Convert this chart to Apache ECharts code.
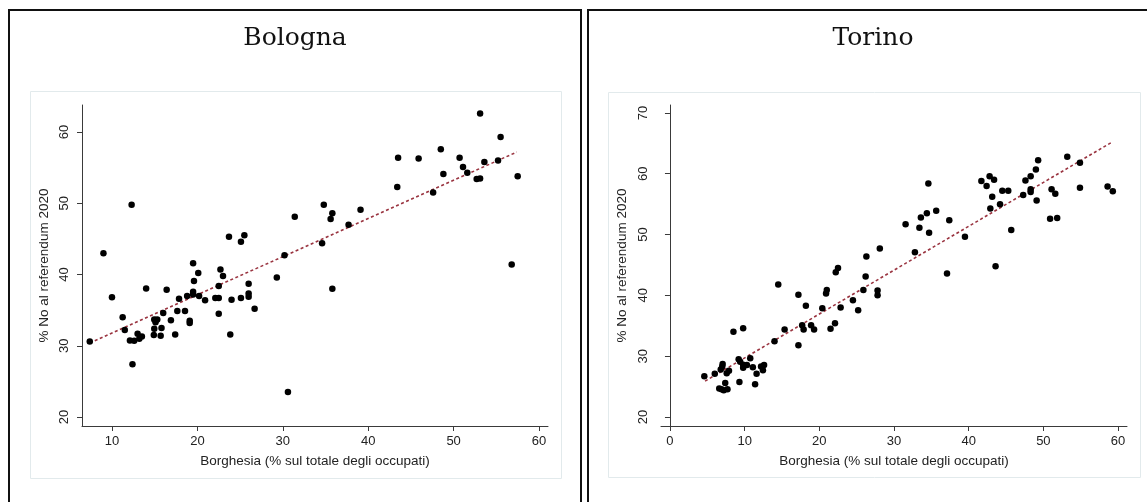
<!DOCTYPE html>
<html>
<head>
<meta charset="utf-8">
<title>Borghesia e voto No</title>
<script src="https://cdn.jsdelivr.net/npm/echarts@6/dist/echarts.min.js"></script>
<style>
    html, body { margin: 0; padding: 0; background: #fff; }
    #chart { width: 1147px; height: 502px; }
</style>
</head>
<body>
<div id="chart"></div>
<script>
// Bologna: % borghesia (x) vs % No al referendum 2020 (y)
const bolognaX = [7.4, 9.0, 10.0, 11.25, 11.5, 12.1, 12.3, 12.4, 12.6, 13.0, 13.2, 13.5, 14.0, 14.95, 15.1, 15.3, 14.95, 14.9, 15.7, 15.8,
    16.0, 16.4, 16.9, 17.4, 17.65, 17.85, 18.55, 18.8, 19.1, 19.1, 19.5, 19.5, 19.6, 20.1, 19.5, 20.2, 20.9, 22.1, 22.5, 22.5,
    22.5, 22.7, 23.0, 23.7, 23.85, 24.0, 25.1, 25.1, 25.5, 26.0, 26.0, 26.0, 26.7, 29.3, 30.2, 30.6, 31.4, 34.6, 34.8, 35.6,
    35.8, 35.8, 37.7, 39.1, 43.4, 43.5, 45.9, 47.6, 48.5, 48.8, 50.7, 51.1, 51.6, 52.7, 53.1, 53.1, 53.6, 55.2, 55.5, 56.8, 57.5];
const bolognaY = [30.6, 43.0, 36.8, 34.0, 32.2, 30.75, 49.8, 27.4, 30.7, 31.7, 31.0, 31.3, 38.05, 33.7, 33.3, 33.7, 32.4, 31.5, 31.4, 32.5,
    34.6, 37.85, 33.6, 31.6, 34.9, 36.6, 34.9, 37.0, 33.5, 33.2, 37.6, 37.2, 39.1, 40.2, 41.6, 37.0, 36.4, 36.7, 36.7, 38.4,
    34.5, 40.7, 39.8, 45.3, 31.6, 36.45, 36.7, 44.6, 45.5, 38.7, 37.35, 36.9, 35.2, 39.6, 42.7, 23.5, 48.1, 44.4, 49.8, 47.8,
    48.6, 38.0, 47.0, 49.1, 52.3, 56.4, 56.3, 51.5, 57.6, 54.1, 56.4, 55.1, 54.3, 53.4, 53.5, 62.6, 55.8, 56.0, 59.3, 41.4, 53.8];
const bolognaFit = [[7.4, 30.4], [57.4, 57.2]];

// Torino
const torinoX = [4.6, 6.0, 6.8, 7.05, 7.0, 6.6, 6.9, 7.2, 7.7, 7.4, 7.6, 7.9, 8.5, 9.2, 9.3, 9.4, 9.8, 9.8, 9.8, 10.3,
    10.75, 11.1, 11.4, 11.6, 12.2, 12.45, 12.6, 14.0, 14.5, 15.35, 17.2, 17.2, 17.7, 17.9, 18.2, 18.9, 19.3, 20.4, 20.9, 21.0,
    21.5, 22.1, 22.2, 22.5, 22.85, 24.5, 25.2, 25.9, 26.2, 26.3, 27.8, 27.8, 28.1, 31.55, 32.8, 33.4, 33.6, 34.4, 34.6, 34.7,
    35.65, 37.1, 37.4, 39.5, 41.7, 42.4, 42.8, 42.9, 43.15, 43.4, 43.6, 44.2, 44.5, 45.3, 45.7, 47.3, 47.6, 48.3, 48.3, 48.3,
    49.0, 49.1, 49.3, 50.9, 51.1, 51.6, 51.85, 53.2, 54.9, 54.9, 58.6, 59.3];
const torinoY = [26.7, 27.1, 27.8, 28.7, 28.3, 24.7, 24.55, 24.4, 24.55, 25.6, 27.2, 27.6, 34.0, 29.5, 25.75, 29.1, 34.6, 28.1, 28.6, 28.55,
    29.65, 28.2, 25.4, 27.1, 28.3, 27.7, 28.55, 32.45, 41.8, 34.4, 40.1, 31.8, 35.1, 34.4, 38.3, 35.1, 34.4, 37.9, 40.3, 40.9,
    34.5, 35.4, 43.8, 44.5, 38.0, 39.2, 37.55, 40.9, 43.1, 46.4, 40.8, 40.0, 47.7, 51.7, 47.1, 51.1, 52.8, 53.5, 58.4, 50.3,
    53.9, 43.6, 52.35, 49.65, 58.8, 58.0, 59.6, 54.3, 56.2, 59.0, 44.8, 55.0, 57.2, 57.2, 50.75, 56.5, 58.9, 59.6, 57.45, 57.0,
    60.7, 55.6, 62.2, 52.6, 57.45, 56.7, 52.7, 62.8, 61.8, 57.7, 57.9, 57.1];
const torinoFit = [[4.7, 25.9], [59.2, 65.2]];

const bolognaTicksX = [10, 20, 30, 40, 50, 60];
const bolognaTicksY = [20, 30, 40, 50, 60];
const torinoTicksX = [0, 10, 20, 30, 40, 50, 60];
const torinoTicksY = [20, 30, 40, 50, 60, 70];

const xName = 'Borghesia (% sul totale degli occupati)';
const yName = '% No al referendum 2020';

function pairs(xs, ys) {
    return xs.map((x, i) => [x, ys[i]]);
}

const axisFont = 'Liberation Sans, Arial, sans-serif';
const axisColor = '#3a3a3a';

function xAxisFor(gridIndex, min, max, ticks) {
    return {
        type: 'value',
        gridIndex: gridIndex,
        min: min,
        max: max,
        name: xName,
        nameLocation: 'middle',
        nameGap: 28,
        nameTextStyle: { fontFamily: axisFont, fontSize: 13.5, color: '#222' },
        axisLine: { show: true, lineStyle: { color: axisColor, width: 1 } },
        axisTick: { show: true, length: 5, customValues: ticks, lineStyle: { color: axisColor } },
        axisLabel: { customValues: ticks, margin: 9, fontFamily: axisFont, fontSize: 13, color: '#222' },
        splitLine: { show: false }
    };
}

function yAxisFor(gridIndex, min, max, ticks, nameGap) {
    return {
        type: 'value',
        gridIndex: gridIndex,
        min: min,
        max: max,
        name: yName,
        nameLocation: 'middle',
        nameGap: nameGap,
        nameTextStyle: { fontFamily: axisFont, fontSize: 13.5, color: '#222' },
        axisLine: { show: true, lineStyle: { color: axisColor, width: 1 } },
        axisTick: { show: true, length: 5, customValues: ticks, lineStyle: { color: axisColor } },
        axisLabel: { customValues: ticks, rotate: 90, margin: 11, fontFamily: axisFont, fontSize: 13, color: '#222' },
        splitLine: { show: false }
    };
}

function fitSeries(idx, data) {
    return {
        type: 'line',
        xAxisIndex: idx,
        yAxisIndex: idx,
        data: data,
        symbol: 'none',
        silent: true,
        z: 3,
        lineStyle: { color: '#9a3440', width: 1.6, type: [3, 2.5] }
    };
}

function dotSeries(idx, data) {
    return {
        type: 'scatter',
        xAxisIndex: idx,
        yAxisIndex: idx,
        data: data,
        symbolSize: 6.5,
        z: 4,
        itemStyle: { color: '#000', opacity: 1 }
    };
}

const chart = echarts.init(document.getElementById('chart'), null, { renderer: 'canvas' });

const options = {
    animation: false,
    backgroundColor: '#fff',
    grid: [
        { left: 82, top: 105, width: 466, height: 321 },
        { left: 661, top: 105, width: 466, height: 321 }
    ],
    xAxis: [
        xAxisFor(0, 6.49, 61.05, bolognaTicksX),
        xAxisFor(1, -1.2, 61.2, torinoTicksX)
    ],
    yAxis: [
        yAxisFor(0, 18.74, 63.8, bolognaTicksY, 31),
        yAxisFor(1, 18.52, 71.3, torinoTicksY, 32)
    ],
    graphic: [
        // panel frames
        { type: 'rect', shape: { x: 9, y: 10, width: 572, height: 500 }, style: { fill: 'none', stroke: '#111', lineWidth: 2 }, silent: true },
        { type: 'rect', shape: { x: 588, y: 10, width: 580, height: 500 }, style: { fill: 'none', stroke: '#111', lineWidth: 2 }, silent: true },
        // plot region boxes
        { type: 'rect', shape: { x: 30.5, y: 91.5, width: 531, height: 387 }, style: { fill: 'none', stroke: '#e2eaec', lineWidth: 1 }, silent: true, z: -1 },
        { type: 'rect', shape: { x: 608.5, y: 92.5, width: 532, height: 385 }, style: { fill: 'none', stroke: '#e2eaec', lineWidth: 1 }, silent: true, z: -1 },
        // titles
        { type: 'text', x: 295, y: 38, style: { text: 'Bologna', fontFamily: 'DejaVu Serif, Georgia, serif', fontSize: 25, fill: '#111', align: 'center', verticalAlign: 'middle' } },
        { type: 'text', x: 873, y: 38, style: { text: 'Torino', fontFamily: 'DejaVu Serif, Georgia, serif', fontSize: 25, fill: '#111', align: 'center', verticalAlign: 'middle' } }
    ],
    series: [
        fitSeries(0, bolognaFit),
        dotSeries(0, pairs(bolognaX, bolognaY)),
        fitSeries(1, torinoFit),
        dotSeries(1, pairs(torinoX, torinoY))
    ]
};

chart.setOption(options);
</script>
</body>
</html>
